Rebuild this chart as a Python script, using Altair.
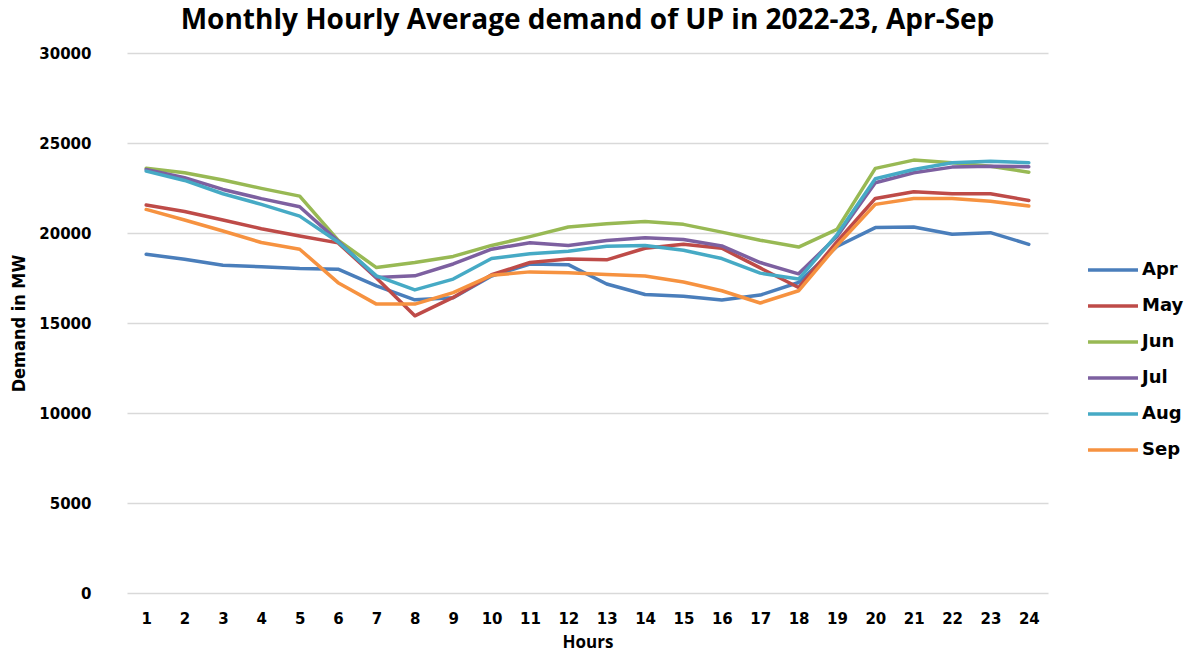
import altair as alt
import pandas as pd

hours = list(range(1, 25))
months = ["Apr", "May", "Jun", "Jul", "Aug", "Sep"]
colors = ["#4A7EBB", "#BE4B48", "#98B954", "#7D60A0", "#46AAC5", "#F69240"]

apr = [18820, 18540, 18210, 18120, 18030, 17990, 17060, 16290, 16400, 17610, 18280, 18240,
       17170, 16580, 16480, 16280, 16550, 17250, 19250, 20300, 20330, 19930, 20020, 19370]
may = [21550, 21190, 20720, 20240, 19830, 19450, 17500, 15400, 16420, 17680, 18360, 18550,
       18510, 19150, 19380, 19150, 18060, 16970, 19500, 21920, 22290, 22180, 22180, 21810]
jun = [23600, 23350, 22940, 22480, 22050, 19600, 18080, 18360, 18700, 19310, 19800, 20330,
       20510, 20640, 20480, 20050, 19600, 19220, 20200, 23590, 24050, 23900, 23710, 23380]
jul = [23530, 23070, 22420, 21910, 21460, 19550, 17530, 17620, 18280, 19100, 19460, 19310,
       19580, 19730, 19640, 19280, 18360, 17730, 19800, 22790, 23350, 23660, 23710, 23680]
aug = [23440, 22920, 22180, 21590, 20940, 19500, 17620, 16840, 17440, 18580, 18850, 18980,
       19260, 19310, 19040, 18580, 17770, 17440, 19900, 23010, 23530, 23900, 23990, 23900]
sep = [21310, 20720, 20110, 19470, 19100, 17240, 16050, 16050, 16690, 17650, 17840, 17790,
       17700, 17610, 17280, 16790, 16110, 16790, 19300, 21590, 21920, 21920, 21770, 21500]

y_ticks = [0, 5000, 10000, 15000, 20000, 25000, 30000]

rows = []
for m, vals in zip(months, [apr, may, jun, jul, aug, sep]):
    for h, v in zip(hours, vals):
        rows.append({"Hour": h, "Month": m, "Demand": v})
df = pd.DataFrame(rows)

chart = alt.Chart(df).mark_line(
    strokeWidth=3.5, strokeJoin="round", strokeCap="round"
).encode(
    x=alt.X("Hour:O", scale=alt.Scale(padding=0.5),
            axis=alt.Axis(title="Hours", labelAngle=0, grid=False, domain=False, ticks=False,
                          tickSize=0, labelPadding=18, labelFont="DejaVu Sans",
                          labelFontWeight="bold", labelFontSize=15, labelColor="#000000",
                          titleFont="Open Sans", titleFontWeight="bold", titleFontSize=17,
                          titleColor="#000000", titlePadding=8)),
    y=alt.Y("Demand:Q", scale=alt.Scale(domain=[0, 30000], nice=False),
            axis=alt.Axis(values=y_ticks, format="d", title="Demand in MW", grid=True,
                          gridColor="#D9D9D9", gridWidth=1.3, domain=False, ticks=False,
                          tickSize=0, labelPadding=36,
                          labelFont="DejaVu Sans", labelFontWeight="bold", labelFontSize=15,
                          labelColor="#000000",
                          titleFont="Liberation Sans Narrow, Arial Narrow, DejaVu Sans Condensed, sans-serif",
                          titleFontWeight="bold", titleFontSize=18, titleColor="#000000",
                          titlePadding=10)),
    color=alt.Color("Month:N", sort=months,
                    scale=alt.Scale(domain=months, range=colors),
                    legend=alt.Legend(title=None, orient="none", legendX=959, legendY=190,
                                      symbolType="stroke", symbolSize=2500,
                                      symbolStrokeWidth=3.5, labelFont="DejaVu Sans",
                                      labelFontWeight="bold", labelFontSize=18,
                                      labelColor="#000000", rowPadding=0, labelOffset=2)),
).properties(
    width=921, height=540,
    background="#FFFFFF",
    title=alt.TitleParams("Monthly Hourly Average demand of UP in 2022-23, Apr-Sep",
                          font="Open Sans", fontSize=28, fontWeight="bold", color="#000000",
                          anchor="middle", offset=11),
    autosize=alt.AutoSizeParams(type="none"),
    padding={"left": 119, "top": 45, "right": 140, "bottom": 57},
).configure_view(stroke="transparent", strokeWidth=0).configure_axis(domain=False)

chart.save("out.html", embed_options={"renderer": "svg", "actions": False})
